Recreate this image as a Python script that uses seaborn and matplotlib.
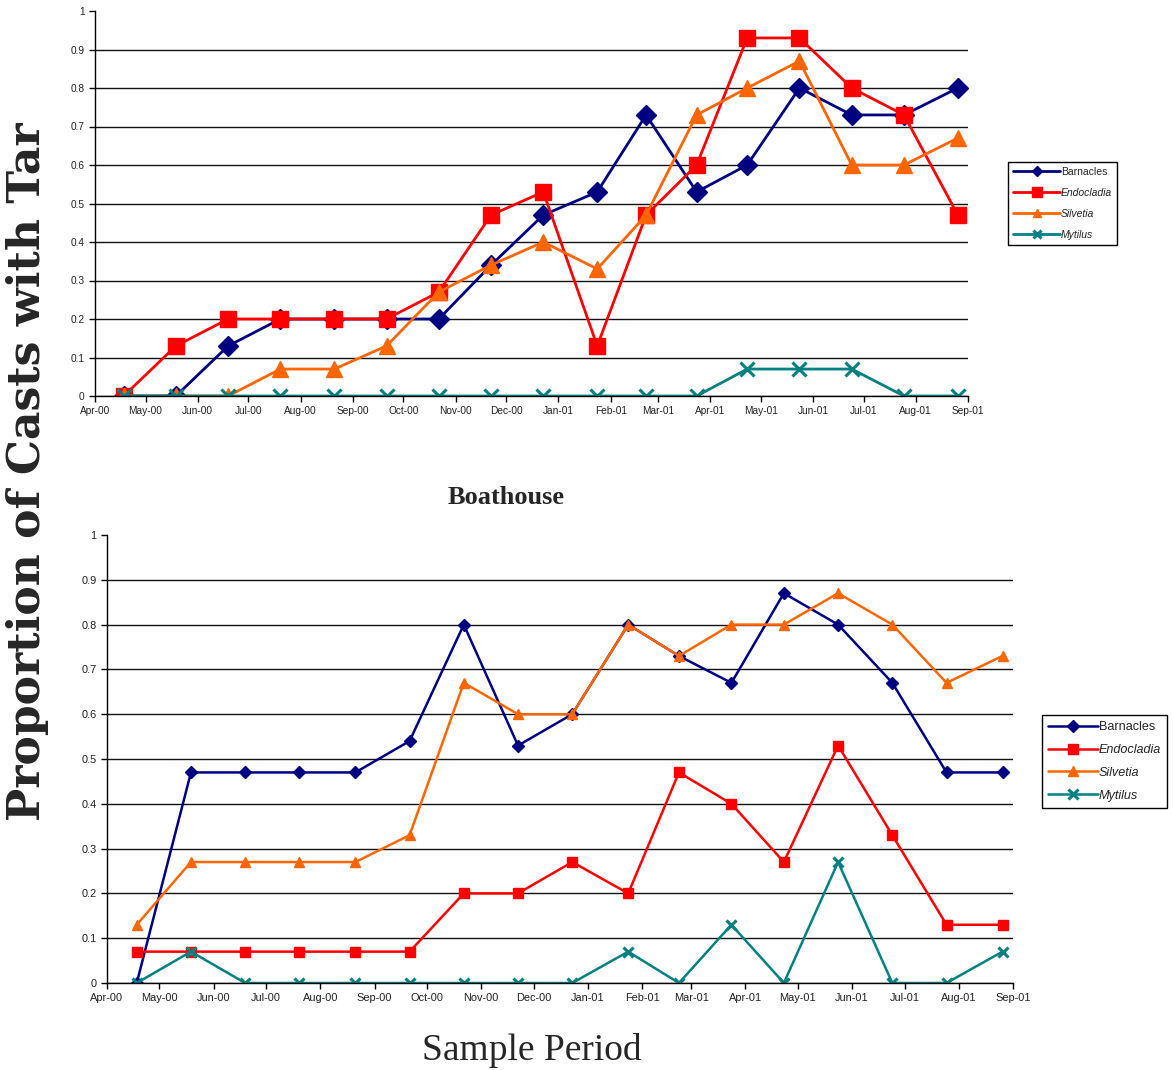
import matplotlib
matplotlib.use("Agg")
import matplotlib.pyplot as plt
import matplotlib.dates as mdates
import numpy as np
import pandas as pd
import seaborn as sns

# Sampling dates (one survey per month)
sample_dates = pd.to_datetime([
    "2000-04-18", "2000-05-19", "2000-06-19", "2000-07-20", "2000-08-21",
    "2000-09-21", "2000-10-22", "2000-11-22", "2000-12-23", "2001-01-24",
    "2001-02-22", "2001-03-24", "2001-04-23", "2001-05-24", "2001-06-24",
    "2001-07-25", "2001-08-26",
])

series_names = ["Barnacles", "Endocladia", "Silvetia", "Mytilus"]

# Upper site
top_barnacles = [0, 0, 0.13, 0.2, 0.2, 0.2, 0.2, 0.34, 0.47, 0.53, 0.73, 0.53, 0.6, 0.8, 0.73, 0.73, 0.8]
top_endocladia = [0, 0.13, 0.2, 0.2, 0.2, 0.2, 0.27, 0.47, 0.53, 0.13, 0.47, 0.6, 0.93, 0.93, 0.8, 0.73, 0.47]
top_silvetia = [0, 0, 0, 0.07, 0.07, 0.13, 0.27, 0.34, 0.4, 0.33, 0.47, 0.73, 0.8, 0.87, 0.6, 0.6, 0.67]
top_mytilus = [0, 0, 0, 0, 0, 0, 0, 0, 0, 0, 0, 0, 0.07, 0.07, 0.07, 0, 0]

# Boathouse site
boat_barnacles = [0, 0.47, 0.47, 0.47, 0.47, 0.54, 0.8, 0.53, 0.6, 0.8, 0.73, 0.67, 0.87, 0.8, 0.67, 0.47, 0.47]
boat_endocladia = [0.07, 0.07, 0.07, 0.07, 0.07, 0.07, 0.2, 0.2, 0.27, 0.2, 0.47, 0.4, 0.27, 0.53, 0.33, 0.13, 0.13]
boat_silvetia = [0.13, 0.27, 0.27, 0.27, 0.27, 0.33, 0.67, 0.6, 0.6, 0.8, 0.73, 0.8, 0.8, 0.87, 0.8, 0.67, 0.73]
boat_mytilus = [0, 0.07, 0, 0, 0, 0, 0, 0, 0, 0.07, 0, 0.13, 0, 0.27, 0, 0, 0.07]

colors = ["#000080", "#FF0000", "#FF6600", "#008080"]
markers = ["D", "s", "^", "x"]

sns.set_style("white")
plt.rcParams["font.family"] = ["Liberation Sans", "DejaVu Sans"]

fig = plt.figure(figsize=(11.73, 10.70), dpi=100)
W, H = 1173, 1070


def axes_box(x0, y0, x1, y1):
    return [x0 / W, 1 - y1 / H, (x1 - x0) / W, (y1 - y0) / H]


ax1 = fig.add_axes(axes_box(95, 11, 968, 396))
ax2 = fig.add_axes(axes_box(107, 535, 1013, 983))


def draw_panel(ax, data, msizes, lw, tick_fs, leg_fs, leg_anchor, markerscale,
               handlelength, labelspacing):
    for name, vals, c, m, ms in zip(series_names, data, colors, markers, msizes):
        mew = 2.2 if m == "x" else 1.0
        sns.lineplot(x=sample_dates, y=vals, ax=ax, color=c, marker=m,
                     markersize=ms, markeredgecolor=c, markerfacecolor=c,
                     markeredgewidth=mew, linewidth=lw, label=name)
    ax.set_ylim(0, 1)
    ax.set_xlim(pd.Timestamp("2000-04-01"), pd.Timestamp("2001-09-01"))
    yt = np.round(np.arange(0, 1.01, 0.1), 1)
    ax.set_yticks(yt)
    ax.set_yticklabels([f"{v:g}" for v in yt])
    ax.xaxis.set_major_locator(mdates.MonthLocator())
    ax.xaxis.set_major_formatter(mdates.DateFormatter("%b-%y"))
    ax.set_xlabel("")
    ax.set_ylabel("")
    ax.grid(axis="y", color="#111111", linewidth=1.0)
    ax.grid(axis="x", visible=False)
    ax.get_ygridlines()[-1].set_visible(False)
    ax.set_axisbelow(True)
    for s in ["top", "right"]:
        ax.spines[s].set_visible(False)
    for s in ["left", "bottom"]:
        ax.spines[s].set_color("black")
        ax.spines[s].set_linewidth(1.0)
    ax.tick_params(axis="both", direction="out", length=4, width=1,
                   labelsize=tick_fs, colors="black", bottom=True, left=True)
    for lab in ax.get_xticklabels() + ax.get_yticklabels():
        lab.set_color("#222222")
    leg = ax.legend(loc="center left", bbox_to_anchor=leg_anchor,
                    bbox_transform=fig.transFigure, fontsize=leg_fs,
                    frameon=True, fancybox=False, framealpha=1,
                    edgecolor="black", markerscale=markerscale,
                    handlelength=handlelength, handletextpad=0.1,
                    borderpad=0.5, labelspacing=labelspacing, borderaxespad=0)
    leg.get_frame().set_linewidth(1.0)
    for t in leg.get_texts()[1:]:
        t.set_style("italic")


draw_panel(ax1, [top_barnacles, top_endocladia, top_silvetia, top_mytilus],
           msizes=[10, 12, 11, 10], lw=2.0, tick_fs=7.3, leg_fs=7.5,
           leg_anchor=(1008 / W, 1 - 203.5 / H), markerscale=0.55,
           handlelength=4.5, labelspacing=1.05)
draw_panel(ax2, [boat_barnacles, boat_endocladia, boat_silvetia, boat_mytilus],
           msizes=[6.5, 7.5, 7.5, 7], lw=1.8, tick_fs=7.9, leg_fs=9.1,
           leg_anchor=(1042 / W, 1 - 761.5 / H), markerscale=1.0,
           handlelength=3.9, labelspacing=0.85)

fig.text(506 / W, 1 - 498 / H, "Boathouse", ha="center", va="center",
         fontsize=19, fontweight="bold", family=["Liberation Serif", "DejaVu Serif"])
fig.text(532 / W, 1 - 1050 / H, "Sample Period", ha="center", va="center",
         fontsize=27, family=["Liberation Serif", "DejaVu Serif"])
fig.text(28 / W, 1 - 472 / H, "Proportion of Casts with Tar", ha="center", va="center",
         rotation=90, fontsize=31.8, fontweight="bold",
         family=["DejaVu Serif"])

fig.savefig("out.png", dpi=100)
